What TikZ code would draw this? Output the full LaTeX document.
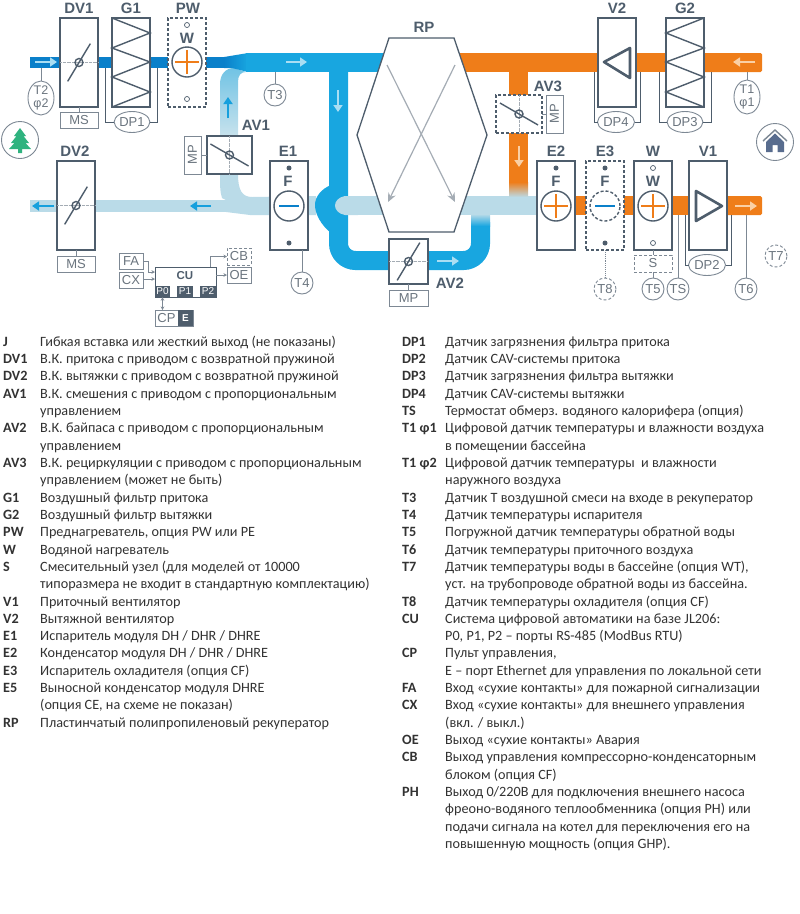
\documentclass[tikz,border=0pt]{standalone}
\usepackage{fontspec}
\setmainfont{Carlito}
\newfontfamily\tagfont{Liberation Sans}
\usetikzlibrary{arrows.meta,calc,shapes.geometric}
\definecolor{ductdark}{RGB}{10,128,202}
\definecolor{ductblue}{RGB}{24,166,224}
\definecolor{ductpale}{RGB}{186,219,232}
\definecolor{ductorange}{RGB}{239,125,25}
\definecolor{framedark}{RGB}{78,93,108}
\definecolor{framegray}{RGB}{125,136,148}
\definecolor{treegreen}{RGB}{47,179,127}
\definecolor{housegray}{RGB}{88,108,142}
\definecolor{legendink}{RGB}{50,50,50}
\definecolor{arrowsky}{RGB}{170,222,243}
\definecolor{arrowpeach}{RGB}{250,208,165}
\newcommand{\flapat}[2]{\draw[blade] (#1)+(#2:22) -- +(#2+180:22); \draw[blade] (#1) circle (4);}
\newcommand{\plusat}[1]{\draw[ductorange,line width=1.2pt] (#1)+(-12,0) -- +(12,0) (#1)+(0,-12) -- +(0,12);}
\newcommand{\minusat}[1]{\draw[ductdark,line width=2.2pt] (#1)+(-10,0) -- +(10,0);}

\begin{document}
\begin{tikzpicture}[
    x=1pt, y=-1pt,
    unitbox/.style={draw=framedark, fill=white, line width=1.4pt, minimum width=38pt, minimum height=89pt, inner sep=0pt, outer sep=0pt},
    dashbox/.style={unitbox, densely dashed},
    smallbox/.style={draw=framegray, fill=white, line width=0.9pt, inner sep=0pt, outer sep=0pt, font=\tagfont\fontsize{13}{13}\selectfont, text=framegray!85!black},
    sensor/.style={smallbox, circle, minimum size=22pt},
    oval/.style={smallbox, ellipse, minimum width=34pt, minimum height=21pt},
    tall/.style={smallbox, ellipse, minimum width=26pt, minimum height=34pt, align=center, font=\tagfont\fontsize{12.5}{12.5}\selectfont},
    tag/.style={font=\tagfont\bfseries\fontsize{15}{15}\selectfont, text=framedark, inner sep=0pt},
    pin/.style={circle, fill=framedark, minimum size=5pt, inner sep=0pt},
    hole/.style={circle, draw=framedark, fill=white, line width=0.7pt, minimum size=5pt, inner sep=0pt},
    coil/.style={circle, draw=framedark, fill=white, line width=1.4pt, minimum size=30pt, inner sep=0pt, outer sep=0pt},
    port/.style={fill=framedark, text=white, inner sep=0pt, font=\tagfont\fontsize{10}{10}\selectfont},
    wire/.style={framegray, line width=0.9pt},
    wiredark/.style={framedark, line width=1pt},
    sig/.style={wire, -{Stealth[length=3.5pt,width=3.5pt]}},
    blade/.style={framedark, line width=1.4pt},
    guide/.style={framegray!70, line width=0.3pt, densely dotted},
    flowpale/.style={line width=2.4pt, -{Triangle[length=7pt,width=9pt]}, arrowsky},
    flowblue/.style={line width=2.4pt, -{Triangle[length=7pt,width=9pt]}, ductblue!85!ductdark},
    flowpeach/.style={line width=2.4pt, -{Triangle[length=7pt,width=9pt]}, arrowpeach},
    crossarr/.style={framegray!70, line width=1.2pt, -{Stealth[length=9pt,width=8pt]}},
    legend/.style={anchor=base west, inner sep=0pt, text=legendink, font=\fontsize{14.2}{16}\selectfont}
]
\useasboundingbox (0,0) rectangle (800,914);

% ducts
\fill[ductpale] (30,200) rectangle (226,212);
\fill[ductpale] (226,200) -- (222,198) .. controls (220,192) and (220,185) .. (220,174) -- (238,174)
    .. controls (238,190) and (242,197) .. (252,197) -- (316,196) -- (316,215) -- (250,215) -- (226,212) -- cycle;
\shade[top color=ductblue!45!ductpale, bottom color=ductpale!80!white] (220,136) -- (220,84) .. controls (220,74) and (226,68) .. (234,68)
    -- (246,72) .. controls (241,72) and (238,75) .. (238,82) -- (238,136) -- cycle;
\fill[ductdark] (30,57) rectangle (226,68);
\shade[left color=ductdark, right color=ductblue] (224,57) -- (248,53) -- (248,72) -- (232,68) -- (224,68) -- cycle;
\fill[ductblue] (246,53) rectangle (385,72);
\draw[ductblue, line width=19pt, rounded corners=17pt] (338.5,60) -- (338.5,260.5) -- (480.5,260.5) -- (480.5,222);
\fill[ductblue] (331,185) .. controls (321,189) and (315,197) .. (315,205)
    .. controls (315,214) and (321,225) .. (331,233) -- (340,233) -- (340,185) -- cycle;
\shade[top color=ductpale, bottom color=ductblue] (471,214) rectangle (490,226);
\fill[ductpale] (358,196) rectangle (540,215);
\fill[ductpale] (358,196) -- (345,196) .. controls (339,197) and (335,201) .. (335,205.5)
    .. controls (335,210) and (339,214) .. (345,215) -- (358,215) -- cycle;
\fill[ductorange] (455,53) rectangle (760,72);
\fill[ductorange, rounded corners=1.5pt] (700,53) rectangle (762,72);
\fill[ductorange] (509,72) rectangle (528,182);
\shade[top color=ductorange, bottom color=ductpale] (509,182) rectangle (528,197);
\fill[ductorange] (575,196) rectangle (760,215);
\fill[ductorange, rounded corners=1.5pt] (720,196) rectangle (762,215);

% recuperator
\node[tag] (lbRP) at (424,27) {RP};
\draw[framedark, line width=1.3pt, fill=white] (389,38) -- (454,38) -- (487,135) -- (454,232) -- (389,232) -- (357,135) -- cycle;
\coordinate (xa1) at (387,65); \coordinate (xa2) at (455,202);
\coordinate (xb1) at (455,65); \coordinate (xb2) at (388,202);
\draw[crossarr] (xa1) -- (xa2);
\draw[crossarr] (xb1) -- (xb2);

% sensor tubes behind the boxes
\coordinate (dp1a) at (105,68); \coordinate (dp1b) at (157,68);
\coordinate (dp4a) at (594,72); \coordinate (dp4b) at (640,72);
\coordinate (dp3a) at (659,72); \coordinate (dp3b) at (711,72);
\coordinate (dp2a) at (685,215); \coordinate (dp2b) at (731,215);
\node[oval] (dp1) at (132,122) {DP1};
\node[oval, minimum width=37pt] (dp4) at (616,122) {DP4};
\node[oval] (dp3) at (685,122) {DP3};
\node[oval, minimum width=37pt] (dp2) at (707,265) {DP2};
\draw[wiredark] (dp1a) |- (dp1.west); \draw[wiredark] (dp1b) |- (dp1.east);
\draw[wiredark] (dp4a) |- (dp4.west); \draw[wiredark] (dp4b) |- (dp4.east);
\draw[wiredark] (dp3a) |- (dp3.west); \draw[wiredark] (dp3b) |- (dp3.east);
\draw[wiredark] (dp2a) |- (dp2.west); \draw[wiredark] (dp2b) |- (dp2.east);

% upper row
\node[unitbox] (dv1) at (79,62.5) {};
\node[tag] (lbDV1) at (79,8) {DV1};
\draw[guide] (dv1.west) -- (dv1.east);
\flapat{dv1}{-59}
\node[smallbox, minimum width=38pt, minimum height=16pt] (ms1) at (79,120) {MS};
\draw[wire] (dv1) -- (ms1);

\node[unitbox] (g1) at (131,62.5) {};
\node[tag] (lbG1) at (131,8) {G1};
\draw[blade] (112,18) -- (150,33) -- (112,48) -- (150,62) -- (112,77) -- (150,92) -- (112,107);

\node[dashbox] (pw) at (187,62.5) {};
\node[tag] (lbPW) at (188,8) {PW};
\node[hole] (pwa) at (187,25) {};
\node[hole] (pwb) at (187,99) {};
\node[tag] (pwW) at (187,38) {W};
\node[coil] (pwc) at (187,62) {};
\plusat{pwc}

\node[unitbox] (v2) at (617,62.5) {};
\node[tag] (lbV2) at (617,8) {V2};
\draw[framedark, line width=2.6pt, line join=round] (604,62) -- (630,48) -- (630,78) -- cycle;
\node[unitbox] (g2) at (685,62.5) {};
\node[tag] (lbG2) at (685,8) {G2};
\draw[blade] (704,18) -- (666,33) -- (704,48) -- (666,62) -- (704,77) -- (666,92) -- (704,107);

% dampers
\node[unitbox, minimum width=45pt, minimum height=38pt] (av1) at (229.5,155) {};
\node[tag] (lbAV1) at (256,125) {AV1};
\draw[guide] (av1.north) -- (av1.south);
\flapat{av1}{30}
\node[smallbox, minimum width=38pt, minimum height=17pt, rotate=90] (av1mp) at (192.5,155) {MP};
\draw[wire] (av1mp.south) -- (av1.west);

\node[unitbox, minimum width=39pt, minimum height=45pt] (av2) at (408.5,261.5) {};
\node[tag] (lbAV2) at (450,283) {AV2};
\draw[guide] (av2.west) -- (av2.east);
\flapat{av2}{-59}
\node[smallbox, minimum width=39pt, minimum height=16pt] (av2mp) at (408.5,298) {MP};
\draw[wire] (av2) -- (av2mp);

\node[dashbox, minimum width=46pt, minimum height=38pt] (av3) at (519,114) {};
\node[tag] (lbAV3) at (548,86) {AV3};
\draw[guide] (av3.north) -- (av3.south);
\flapat{av3}{30}
\node[smallbox, minimum width=38pt, minimum height=17pt, rotate=90] (av3mp) at (554.5,114) {MP};
\draw[wire] (av3mp.north) -- (av3.east);

% lower row
\node[unitbox] (dv2) at (76,205.5) {};
\node[tag] (lbDV2) at (75,151) {DV2};
\draw[guide] (dv2.west) -- (dv2.east);
\flapat{dv2}{-59}
\node[smallbox, minimum width=38pt, minimum height=16pt] (ms2) at (76,264) {MS};
\draw[wire] (dv2) -- (ms2);

\node[unitbox] (e1) at (289,205.5) {};
\node[tag] (lbE1) at (288,151) {E1};
\node[pin] (e1a) at (289,168) {};
\node[pin] (e1b) at (289,243) {};
\node[tag] (e1F) at (288,181) {F};
\node[coil] (e1c) at (289,206) {};
\minusat{e1c}

\node[unitbox] (e2) at (556,205.5) {};
\node[tag] (lbE2) at (556,151) {E2};
\node[pin] (e2a) at (556,168) {};
\node[tag] (e2F) at (556,181) {F};
\node[coil] (e2c) at (556,206) {};
\plusat{e2c}

\node[dashbox] (e3) at (605,205.5) {};
\node[tag] (lbE3) at (605,151) {E3};
\node[pin] (e3a) at (605,168) {};
\node[pin] (e3b) at (605,243) {};
\node[tag] (e3F) at (605,181) {F};
\node[coil, densely dashed] (e3c) at (605,206) {};
\minusat{e3c}

\node[unitbox] (wh) at (653,205.5) {};
\node[tag] (lbW) at (653,151) {W};
\node[hole] (wha) at (653,168) {};
\node[hole] (whb) at (653,243) {};
\node[tag] (whW) at (653,181) {W};
\node[coil] (whc) at (653,206) {};
\plusat{whc}

\node[unitbox] (v1) at (708,205.5) {};
\node[tag] (lbV1) at (708,151) {V1};
\draw[framedark, line width=2.6pt, line join=round] (696,191) -- (722,206) -- (696,221) -- cycle;

% sensors
\coordinate (t2a) at (41,68); \coordinate (t3a) at (275,72); \coordinate (t1a) at (747,72);
\coordinate (tsa) at (678,215); \coordinate (t6a) at (746,215);
\node[tall] (t2) at (41,98) {T2\\φ2};
\node[tall] (t1) at (747,97) {T1\\φ1};
\node[sensor] (t3) at (275,95) {T3};
\node[sensor] (t4) at (302,283) {T4};
\node[smallbox, densely dashed, minimum width=38pt, minimum height=17pt] (sm) at (653,263.5) {S};
\node[sensor] (t5) at (653,289) {T5};
\node[sensor] (ts) at (678,289) {TS};
\node[sensor] (t6) at (746,289) {T6};
\node[sensor, densely dashed] (t8) at (605,289) {T8};
\node[sensor, densely dashed] (t7) at (776,256) {T7};
\draw[wire] (t2a) -- (t2);
\draw[wire] (t3a) -- (t3);
\draw[wire] (t1a) -- (t1);
\draw[wire] (e1.south -| t4) -- (t4);
\draw[wire] (tsa) -- (ts);
\draw[wire] (t6a) -- (t6);
\draw[wire] (wh) -- (sm);
\draw[wire] (sm) -- (t5);
\draw[wire, densely dotted] (e3) -- (t8);

% automation block
\node[smallbox, minimum width=24pt, minimum height=16pt] (fa) at (131,261) {FA};
\node[smallbox, minimum width=24pt, minimum height=16pt] (cx) at (131,280) {CX};
\node[smallbox, draw=framedark, line width=1pt, minimum width=61pt, minimum height=30pt] (cu) at (185.5,282) {};
\node[tag, font=\tagfont\bfseries\fontsize{11.5}{12}\selectfont] (cuname) at (185,276) {CU};
\node[port, minimum width=15pt, minimum height=11pt] (p0) at (162.5,291.5) {P0};
\node[port, minimum width=16pt, minimum height=11pt] (p1) at (185,291.5) {P1};
\node[port, minimum width=16pt, minimum height=11pt] (p2) at (208,291.5) {P2};
\node[smallbox, densely dashed, minimum width=24pt, minimum height=17pt] (cb) at (239,256.5) {CB};
\node[smallbox, minimum width=24pt, minimum height=16pt] (oe) at (239,275) {OE};
\node[smallbox, minimum width=38pt, minimum height=16pt] (cp) at (174,318) {};
\node[smallbox, draw=none, fill=none] (cpname) at (166.5,318) {CP};
\node[port, minimum width=15pt, minimum height=16pt, font=\tagfont\bfseries\fontsize{10}{10}\selectfont] (cpe) at (185.5,318) {E};
\coordinate (fabend) at (148,272); \coordinate (cuin1) at (155,272);
\coordinate (cuin2) at (155,279); \coordinate (cuup) at (210,267); \coordinate (cuout) at (216,275);
\draw[sig] (fa.east) -| (fabend) -- (cuin1);
\draw[sig] (cx.east |- cuin2) -- (cuin2);
\draw[sig] (cuup) |- (cb.west);
\draw[sig] (cuout) -- (oe.west);
\draw[wire, {Stealth[length=3.5pt,width=3.5pt]}-{Stealth[length=3.5pt,width=3.5pt]}] (p0.south) -- (cp.north -| p0);

% air flow arrows
\coordinate (f1a) at (35,62); \coordinate (f1b) at (57,62);
\coordinate (f2a) at (286,62); \coordinate (f2b) at (307,62);
\coordinate (f3a) at (338,90); \coordinate (f3b) at (338,112);
\coordinate (f4a) at (437,261); \coordinate (f4b) at (459,261);
\coordinate (f5a) at (228,118); \coordinate (f5b) at (228,97);
\coordinate (f6a) at (54,206); \coordinate (f6b) at (32,206);
\coordinate (f7a) at (211,206); \coordinate (f7b) at (190,206);
\coordinate (f8a) at (519,146); \coordinate (f8b) at (519,167);
\coordinate (f9a) at (755,62); \coordinate (f9b) at (733,62);
\coordinate (f10a) at (735,206); \coordinate (f10b) at (757,206);
\draw[flowpale] (f1a) -- (f1b);
\draw[flowpale] (f2a) -- (f2b);
\draw[flowpale] (f3a) -- (f3b);
\draw[flowpale] (f4a) -- (f4b);
\draw[flowblue] (f5a) -- (f5b);
\draw[flowblue] (f6a) -- (f6b);
\draw[flowblue] (f7a) -- (f7b);
\draw[flowpeach] (f8a) -- (f8b);
\draw[flowpeach] (f9a) -- (f9b);
\draw[flowpeach] (f10a) -- (f10b);

% outside and room signs
\node[smallbox, circle, minimum size=37pt] (outdoor) at (20,140) {};
\fill[treegreen] (20,128) -- (26,136) -- (23.5,136) -- (29,143) -- (25.5,143) -- (31,149) -- (22,149) -- (22,153) -- (18,153) -- (18,149) -- (9,149) -- (14.5,143) -- (11,143) -- (16.5,136) -- (14,136) -- cycle;
\node[smallbox, circle, minimum size=37pt] (indoor) at (775,142) {};
\draw[framegray, line width=1.4pt] (763,141) -- (775,130) -- (787,141);
\fill[housegray] (775,133.5) -- (784,142) -- (784,152) -- (777.5,152) -- (777.5,145) -- (772.5,145) -- (772.5,152) -- (766,152) -- (766,142) -- cycle;

% legend
\foreach \key/\txt [count=\i] in {
  J/{Гибкая вставка или жесткий выход (не показаны)},
  DV1/{В.К. притока с приводом с возвратной пружиной},
  DV2/{В.К. вытяжки с приводом с возвратной пружиной},
  AV1/{В.К. смешения с приводом с пропорциональным},
  {}/{управлением},
  AV2/{В.К. байпаса с приводом с пропорциональным},
  {}/{управлением},
  AV3/{В.К. рециркуляции с приводом с пропорциональным},
  {}/{управлением (может не быть)},
  G1/{Воздушный фильтр притока},
  G2/{Воздушный фильтр вытяжки},
  PW/{Преднагреватель, опция PW или PE},
  W/{Водяной нагреватель},
  S/{Смесительный узел (для моделей от 10000},
  {}/{типоразмера не входит в стандартную комплектацию)},
  V1/{Приточный вентилятор},
  V2/{Вытяжной вентилятор},
  E1/{Испаритель модуля DH / DHR / DHRE},
  E2/{Конденсатор модуля DH / DHR / DHRE},
  E3/{Испаритель охладителя (опция CF)},
  E5/{Выносной конденсатор модуля DHRE},
  {}/{(опция CE, на схеме не показан)},
  RP/{Пластинчатый полипропиленовый рекуператор}}
  \node[legend] (lgl\i) at (3,{346.2+17.32*(\i-1)}) {\makebox[37pt][l]{\bfseries\key}\txt};

\foreach \key/\txt [count=\i] in {
  DP1/{Датчик загрязнения фильтра притока},
  DP2/{Датчик CAV-системы притока},
  DP3/{Датчик загрязнения фильтра вытяжки},
  DP4/{Датчик CAV-системы вытяжки},
  TS/{Термостат обмерз. водяного калорифера (опция)},
  T1 φ1/{Цифровой датчик температуры и влажности воздуха},
  {}/{в помещении бассейна},
  T1 φ2/{Цифровой датчик температуры~ и влажности},
  {}/{наружного воздуха},
  T3/{Датчик Т воздушной смеси на входе в рекуператор},
  T4/{Датчик температуры испарителя},
  T5/{Погружной датчик температуры обратной воды},
  T6/{Датчик температуры приточного воздуха},
  T7/{Датчик температуры воды в бассейне (опция WT),},
  {}/{уст. на трубопроводе обратной воды из бассейна.},
  T8/{Датчик температуры охладителя (опция CF)},
  CU/{Система цифровой автоматики на базе JL206:},
  {}/{P0, P1, P2 -- порты RS-485 (ModBus RTU)},
  CP/{Пульт управления,},
  {}/{E -- порт Ethernet для управления по локальной сети},
  FA/{Вход «сухие контакты» для пожарной сигнализации},
  CX/{Вход «сухие контакты» для внешнего управления},
  {}/{(вкл. / выкл.)},
  OE/{Выход «сухие контакты» Авария},
  CB/{Выход управления компрессорно-конденсаторным},
  {}/{блоком (опция CF)},
  PH/{Выход 0/220В для подключения внешнего насоса},
  {}/{фреоно-водяного теплообменника (опция PH) или},
  {}/{подачи сигнала на котел для переключения его на},
  {}/{повышенную мощность (опция GHP).}}
  \node[legend] (lgr\i) at (402,{346.2+17.32*(\i-1)}) {\makebox[43pt][l]{\bfseries\key}\txt};
\end{tikzpicture}
\end{document}
